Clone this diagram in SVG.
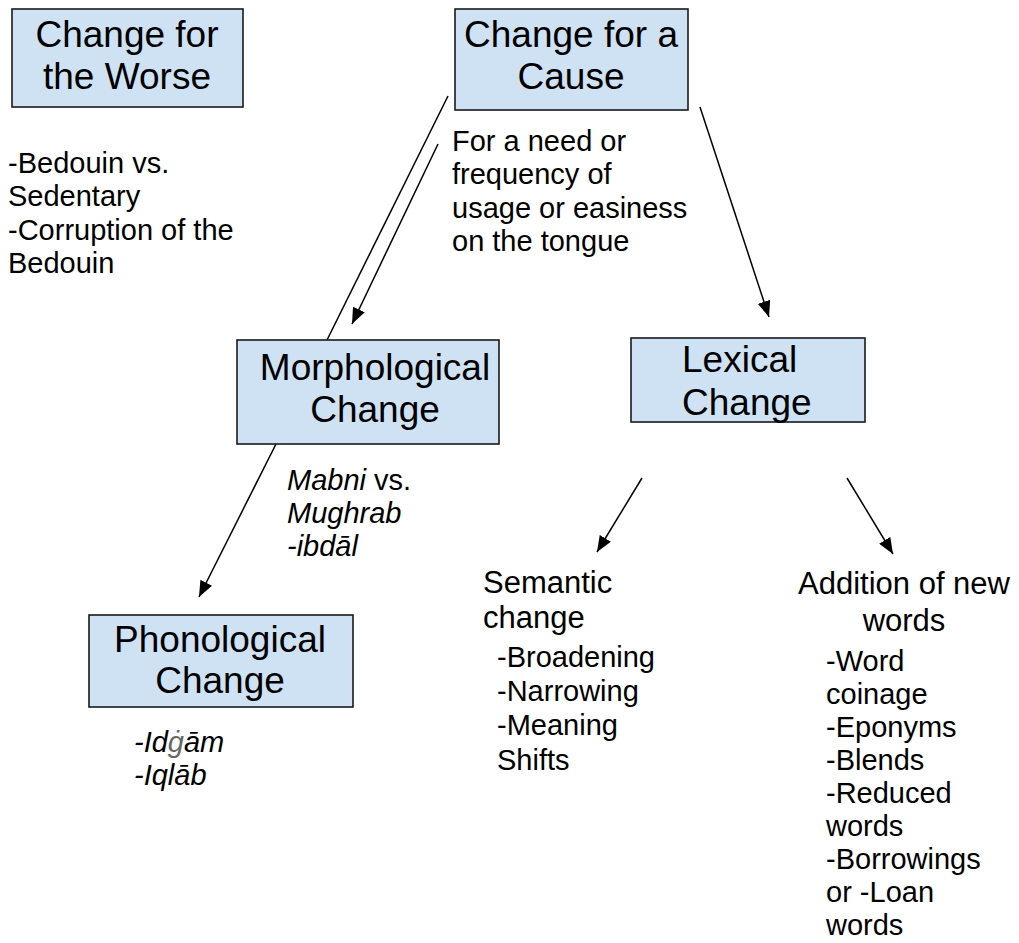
<svg xmlns="http://www.w3.org/2000/svg" width="1019" height="943" viewBox="0 0 1019 943">
<style>
.box{fill:#cfe2f3;stroke:#1a1a1a;stroke-width:1.6}
.bt{font-family:"Liberation Sans",Arial,sans-serif;font-size:37px;fill:#000}
.t{font-family:"Liberation Sans",Arial,sans-serif;font-size:29px;fill:#000}
.h{font-family:"Liberation Sans",Arial,sans-serif;font-size:31px;fill:#000}
.i{font-style:italic}
.c{stroke:#000;stroke-width:1.5;fill:none}
.mid{text-anchor:middle}
</style>
<defs>
<marker id="ah" viewBox="0 0 16 13" markerWidth="16" markerHeight="13" refX="16" refY="6.5" orient="auto" markerUnits="userSpaceOnUse">
<path d="M0,0 L16,6.5 L0,13 z" fill="#000"/>
</marker>
</defs>
<rect width="1019" height="943" fill="#fff"/>
<g id="connectors">
<line class="c" x1="448" y1="96" x2="327" y2="340"/>
<line class="c" x1="438" y1="144" x2="352" y2="324" marker-end="url(#ah)"/>
<line class="c" x1="700" y1="107" x2="769" y2="317" marker-end="url(#ah)"/>
<line class="c" x1="276" y1="444" x2="199" y2="597" marker-end="url(#ah)"/>
<line class="c" x1="642" y1="478" x2="597" y2="552" marker-end="url(#ah)"/>
<line class="c" x1="847" y1="478" x2="893" y2="554" marker-end="url(#ah)"/>
</g>
<g id="worse">
<rect class="box" x="12" y="9" width="231" height="98"/>
<text class="bt mid" x="127" y="47">Change for</text>
<text class="bt mid" x="127" y="89">the Worse</text>
</g>
<g id="worse-notes">
<text class="t" x="8" y="173">-Bedouin vs.</text>
<text class="t" x="8" y="206">Sedentary</text>
<text class="t" x="8" y="240">-Corruption of the</text>
<text class="t" x="8" y="273">Bedouin</text>
</g>
<g id="cause">
<rect class="box" x="455" y="9" width="233" height="101"/>
<text class="bt mid" x="571" y="47">Change for a</text>
<text class="bt mid" x="571" y="89">Cause</text>
</g>
<g id="cause-notes">
<text class="t" x="452" y="151">For a need or</text>
<text class="t" x="452" y="184">frequency of</text>
<text class="t" x="452" y="218">usage or easiness</text>
<text class="t" x="452" y="251">on the tongue</text>
</g>
<g id="morph">
<rect class="box" x="237" y="340" width="262" height="104"/>
<text class="bt mid" x="375" y="380">Morphological</text>
<text class="bt mid" x="375" y="422">Change</text>
</g>
<g id="morph-notes">
<text class="t" x="287" y="490"><tspan class="i">Mabni</tspan> vs.</text>
<text class="t i" x="287" y="523">Mughrab</text>
<text class="t i" x="287" y="556">-ibdāl</text>
</g>
<g id="phono">
<rect class="box" x="89" y="615" width="264" height="92"/>
<text class="bt mid" x="220" y="652">Phonological</text>
<text class="bt mid" x="220" y="693">Change</text>
</g>
<g id="phono-notes">
<text class="t i" x="134" y="752">-Id<tspan fill="#666">ġ</tspan>ām</text>
<text class="t i" x="134" y="785">-Iqlāb</text>
</g>
<g id="lexical">
<rect class="box" x="631" y="338" width="234" height="84"/>
<text class="bt" x="682" y="372">Lexical</text>
<text class="bt" x="682" y="415">Change</text>
</g>
<g id="semantic">
<text class="h" x="483" y="593">Semantic</text>
<text class="h" x="483" y="628">change</text>
<text class="t" x="497" y="667">-Broadening</text>
<text class="t" x="497" y="701">-Narrowing</text>
<text class="t" x="497" y="735">-Meaning</text>
<text class="t" x="497" y="770">Shifts</text>
</g>
<g id="addition">
<text class="h mid" x="904" y="594">Addition of new</text>
<text class="h mid" x="904" y="631">words</text>
<text class="t" x="826" y="671">-Word</text>
<text class="t" x="826" y="704">coinage</text>
<text class="t" x="826" y="737">-Eponyms</text>
<text class="t" x="826" y="770">-Blends</text>
<text class="t" x="826" y="803">-Reduced</text>
<text class="t" x="826" y="836">words</text>
<text class="t" x="826" y="869">-Borrowings</text>
<text class="t" x="826" y="902">or -Loan</text>
<text class="t" x="826" y="935">words</text>
</g>
</svg>
